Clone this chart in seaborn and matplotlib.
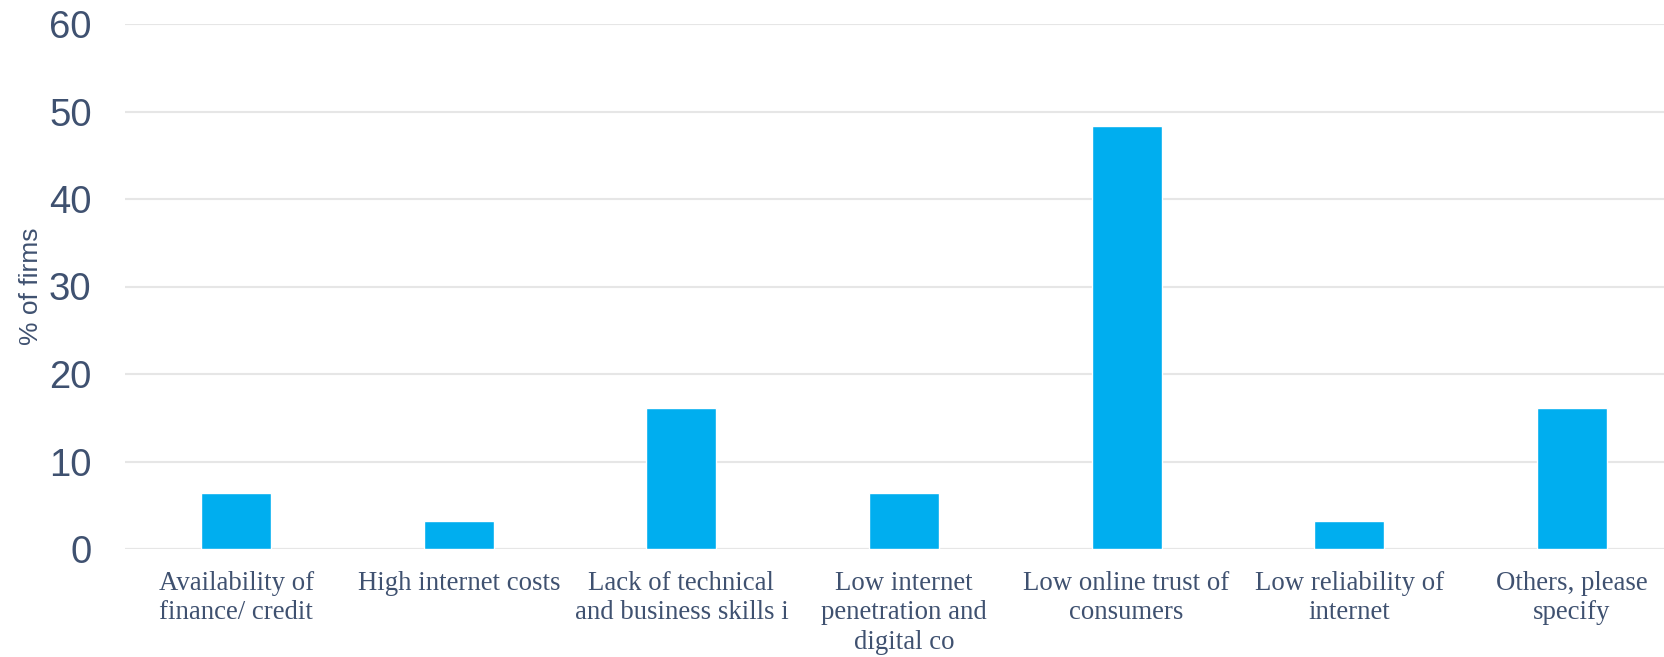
import matplotlib
matplotlib.use("Agg")
import matplotlib.pyplot as plt
import seaborn as sns
import pandas as pd

categories = [
    "Availability of\nfinance/ credit",
    "High internet costs",
    "Lack of technical\nand business skills i",
    "Low internet\npenetration and\ndigital co",
    "Low online trust of\nconsumers",
    "Low reliability of\ninternet",
    "Others, please\nspecify",
]
values = [6.45, 3.23, 16.13, 6.45, 48.39, 3.23, 16.13]
yticks = [0, 10, 20, 30, 40, 50, 60]

df = pd.DataFrame({"category": categories, "pct": values})

sns.set_theme(style="white")
plt.rcParams["font.family"] = ["Liberation Sans", "DejaVu Sans"]

text_color = "#3F5170"
fig = plt.figure(figsize=(16.64, 6.57), dpi=100)
ax = fig.add_axes([125 / 1664, 108 / 657, (1683 - 125) / 1664, (633 - 108) / 657])

sns.barplot(data=df, x="category", y="pct", color="#00AEEF", saturation=1,
            width=0.314, ax=ax)

ax.set_ylim(0, 60)
ax.set_xlim(-0.5, 6.5)
ax.set_yticks(yticks)
ax.set_yticklabels([str(t) for t in yticks])
ax.yaxis.grid(True, color="#E6E6E6", linewidth=1.5)
ax.set_axisbelow(True)
for s in ax.spines.values():
    s.set_visible(False)
ax.axhline(0, color="#E6E6E6", linewidth=1.5, zorder=0)

ax.tick_params(axis="y", length=0, pad=24, labelsize=27.5, labelcolor=text_color)
ax.tick_params(axis="x", length=0, pad=16, labelcolor=text_color)
for lab in ax.get_xticklabels():
    lab.set_fontfamily("Liberation Serif")
    lab.set_fontsize(19.3)
    lab.set_linespacing(1.22)

ax.set_xlabel("")
ax.set_ylabel("% of firms", fontsize=19, color=text_color)
ax.yaxis.set_label_coords((43 - 125) / 1558, 0.5)

fig.savefig("out.png", dpi=100)
